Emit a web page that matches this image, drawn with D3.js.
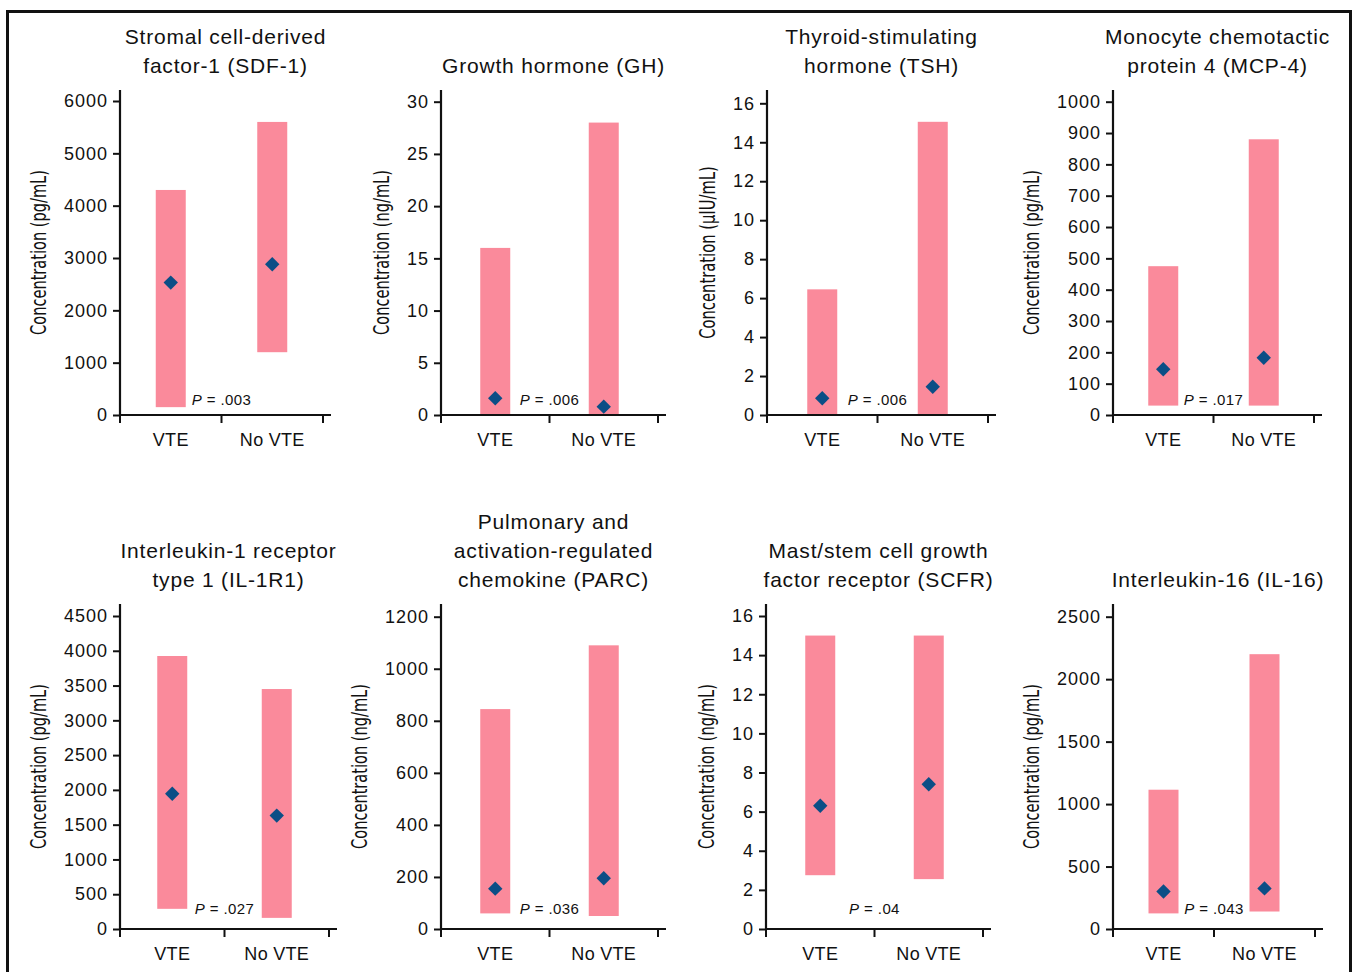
<!DOCTYPE html>
<html>
<head>
<meta charset="utf-8">
<script src="https://cdn.jsdelivr.net/npm/d3@7"></script>
<style>
  html, body { margin: 0; padding: 0; background: #fff; }
  svg { display: block; }
  text { font-family: "Liberation Sans", Arial, Helvetica, sans-serif; fill: #111; }
</style>
</head>
<body>
<svg id="chart" width="1356" height="972"></svg>
<script>
// ---------------- data ----------------
const titles = [
  ["Stromal cell-derived", "factor-1 (SDF-1)"],
  ["Growth hormone (GH)"],
  ["Thyroid-stimulating", "hormone (TSH)"],
  ["Monocyte chemotactic", "protein 4 (MCP-4)"],
  ["Interleukin-1 receptor", "type 1 (IL-1R1)"],
  ["Pulmonary and", "activation-regulated", "chemokine (PARC)"],
  ["Mast/stem cell growth", "factor receptor (SCFR)"],
  ["Interleukin-16 (IL-16)"]
];
const units = ["pg/mL", "ng/mL", "µIU/mL", "pg/mL", "pg/mL", "ng/mL", "ng/mL", "pg/mL"];
const yMax  = [6000, 30, 16, 1000, 4500, 1200, 16, 2500];
const yStep = [1000, 5, 2, 100, 500, 200, 2, 500];
const categories = ["VTE", "No VTE"];
const vteLow      = [150, 0, 0, 30, 290, 60, 2.75, 125];
const vteHigh     = [4300, 16, 6.45, 475, 3925, 845, 15, 1115];
const vteMedian   = [2530, 1.6, 0.86, 146, 1945, 155, 6.3, 300];
const noVteLow    = [1200, 0, 0, 30, 160, 50, 2.55, 140];
const noVteHigh   = [5600, 28, 15.05, 880, 3450, 1090, 15, 2200];
const noVteMedian = [2880, 0.8, 1.45, 183, 1630, 195, 7.4, 325];
const pValues = [".003", ".006", ".006", ".017", ".027", ".036", ".04", ".043"];

// ---------------- layout ----------------
const rows = [
  { y0: 415, axTop: 90, titleBase: 72.5, pOff: 10 },
  { y0: 929, axTop: 604, titleBase: 587, pOff: 15 }
];
const panels = [
  { ax: 120,  w: 203, top: 101,   row: 0 },
  { ax: 441,  w: 217, top: 101.7, row: 0 },
  { ax: 767,  w: 221, top: 103.3, row: 0 },
  { ax: 1113, w: 201, top: 101.7, row: 0 },
  { ax: 120,  w: 209, top: 616,   row: 1 },
  { ax: 441,  w: 217, top: 616.7, row: 1 },
  { ax: 766,  w: 217, top: 616,   row: 1 },
  { ax: 1113, w: 202, top: 616.7, row: 1 }
];
const barColor = "#fa8a9b";
const dotColor = "#0b4e86";
const barW = 30;

const svg = d3.select("#chart");

// outer frame
svg.append("rect")
  .attr("x", 7.5).attr("y", 11.5)
  .attr("width", 1343).attr("height", 1000)
  .attr("fill", "none").attr("stroke", "#111").attr("stroke-width", 3);

panels.forEach((p, i) => {
  const r = rows[p.row];
  const g = svg.append("g");
  const y = d3.scaleLinear().domain([0, yMax[i]]).range([r.y0, p.top]);
  const x = d3.scaleBand().domain(categories).range([p.ax, p.ax + p.w]);
  const bw = x.bandwidth();

  const lows = [vteLow[i], noVteLow[i]];
  const highs = [vteHigh[i], noVteHigh[i]];
  const meds = [vteMedian[i], noVteMedian[i]];

  // bars (range)
  g.selectAll("rect.bar").data(categories).enter().append("rect")
    .attr("class", "bar")
    .attr("x", c => x(c) + bw / 2 - barW / 2)
    .attr("width", barW)
    .attr("y", (c, k) => y(highs[k]))
    .attr("height", (c, k) => y(lows[k]) - y(highs[k]))
    .attr("fill", barColor);

  // median diamonds
  g.selectAll("path.dot").data(categories).enter().append("path")
    .attr("class", "dot")
    .attr("d", d3.symbol().type(d3.symbolSquare).size(104))
    .attr("transform", (c, k) => `translate(${x(c) + bw / 2},${y(meds[k])}) rotate(45)`)
    .attr("fill", dotColor);

  // y axis
  const ticks = d3.range(0, yMax[i] + yStep[i] / 2, yStep[i]);
  const yAx = g.append("g")
    .attr("transform", `translate(${p.ax},0)`)
    .call(d3.axisLeft(y).tickValues(ticks).tickSize(7).tickPadding(5).tickFormat(d3.format("d")));
  yAx.select(".domain").remove();
  yAx.selectAll(".tick line").attr("stroke", "#111").attr("stroke-width", 2);
  yAx.selectAll(".tick text")
    .style("font-size", "18px").style("letter-spacing", "1px")
    .attr("fill", "#111");
  g.append("line")
    .attr("x1", p.ax).attr("x2", p.ax)
    .attr("y1", r.axTop).attr("y2", r.y0 + 1)
    .attr("stroke", "#111").attr("stroke-width", 2.2);

  // x axis
  g.append("line")
    .attr("x1", p.ax - 1).attr("x2", p.ax + p.w + 8)
    .attr("y1", r.y0).attr("y2", r.y0)
    .attr("stroke", "#111").attr("stroke-width", 2.2);
  const xt = [x.range()[0], x(categories[1]), x.range()[1]];
  g.selectAll("line.xt").data(xt).enter().append("line")
    .attr("x1", d => d).attr("x2", d => d)
    .attr("y1", r.y0).attr("y2", r.y0 + 8)
    .attr("stroke", "#111").attr("stroke-width", 2);
  g.selectAll("text.cat").data(categories).enter().append("text")
    .attr("x", c => x(c) + bw / 2)
    .attr("y", r.y0 + 31)
    .attr("text-anchor", "middle")
    .style("font-size", "18px").style("letter-spacing", "0.3px")
    .text(c => c);

  // P value
  const pt = g.append("text")
    .attr("x", x(categories[1]))
    .attr("y", r.y0 - r.pOff)
    .attr("text-anchor", "middle")
    .style("font-size", "15px").style("letter-spacing", "0.4px");
  pt.append("tspan").style("font-style", "italic").text("P");
  pt.append("tspan").text(" = " + pValues[i]);

  // title
  const tl = titles[i];
  const tcx = p.ax + (p.w + 8) / 2;
  g.selectAll("text.title").data(tl).enter().append("text")
    .attr("x", tcx)
    .attr("y", (d, k) => r.titleBase - (tl.length - 1 - k) * 29)
    .attr("text-anchor", "middle")
    .style("font-size", "21px").style("letter-spacing", "0.8px")
    .text(d => d);

  // y label
  let maxW = 0;
  yAx.selectAll(".tick text").each(function () { maxW = Math.max(maxW, this.getBBox().width); });
  const lx = p.ax - 12 - maxW - 26;
  const ly = (r.axTop + r.y0) / 2;
  const label = "Concentration (" + units[i] + ")";
  g.append("text")
    .attr("transform", `translate(${lx + 8},${ly}) rotate(-90)`)
    .attr("text-anchor", "middle")
    .attr("textLength", label.length * 7.85)
    .attr("lengthAdjust", "spacingAndGlyphs")
    .style("font-family", "'Liberation Sans Narrow', 'DejaVu Sans Condensed', 'Liberation Sans', sans-serif")
    .style("font-size", "22px")
    .text(label);
});
</script>
</body>
</html>
